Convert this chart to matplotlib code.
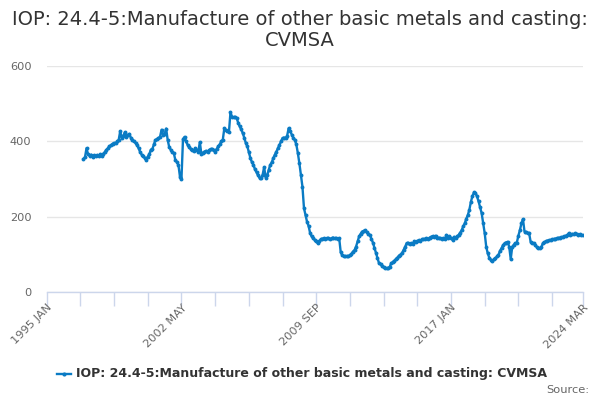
import numpy as np
import matplotlib
matplotlib.use("Agg")
import matplotlib.pyplot as plt

title = "IOP: 24.4-5:Manufacture of other basic metals and casting:\nCVMSA"
series_name = "IOP: 24.4-5:Manufacture of other basic metals and casting: CVMSA"

start_year = 1997
v1997 = [354, 358, 382, 366, 362, 365, 360, 363, 361, 364, 362, 366]
v1998 = [362, 368, 372, 378, 382, 387, 390, 394, 396, 395, 400, 404]
v1999 = [427, 409, 415, 424, 412, 418, 420, 409, 405, 400, 396, 390]
v2000 = [382, 372, 365, 362, 356, 351, 360, 366, 378, 380, 392, 404]
v2001 = [406, 409, 412, 431, 418, 420, 434, 404, 385, 378, 372, 369]
v2002 = [351, 345, 338, 307, 301, 406, 412, 400, 391, 385, 380, 378]
v2003 = [375, 382, 377, 373, 398, 367, 370, 373, 375, 372, 376, 380]
v2004 = [380, 376, 373, 380, 387, 392, 400, 405, 435, 430, 427, 425]
v2005 = [477, 466, 464, 465, 462, 450, 440, 432, 422, 410, 396, 387]
v2006 = [372, 356, 345, 338, 326, 318, 310, 303, 304, 312, 332, 304]
v2007 = [310, 325, 338, 345, 356, 365, 373, 382, 391, 400, 409, 410]
v2008 = [409, 415, 435, 428, 418, 410, 404, 392, 369, 342, 311, 280]
v2009 = [223, 205, 187, 176, 157, 148, 143, 139, 135, 130, 136, 141]
v2010 = [142, 143, 141, 143, 144, 142, 143, 145, 143, 143, 142, 143]
v2011 = [106, 98, 96, 95, 96, 96, 98, 102, 108, 112, 121, 135]
v2012 = [148, 155, 161, 163, 164, 160, 155, 152, 142, 132, 118, 104]
v2013 = [90, 77, 74, 70, 66, 65, 64, 64, 68, 77, 80, 84]
v2014 = [88, 92, 97, 100, 104, 112, 120, 130, 131, 129, 130, 128]
v2015 = [135, 133, 136, 138, 137, 140, 141, 142, 143, 141, 145, 147]
v2016 = [149, 146, 150, 143, 145, 143, 142, 143, 140, 152, 145, 148]
v2017 = [144, 139, 147, 145, 148, 152, 158, 165, 175, 183, 195, 205]
v2018 = [219, 240, 255, 265, 263, 254, 241, 225, 210, 183, 157, 121]
v2019 = [103, 92, 86, 84, 87, 90, 95, 99, 110, 117, 125, 130]
v2020 = [132, 134, 121, 88, 121, 126, 130, 132, 150, 165, 183, 194]
v2021 = [161, 160, 157, 157, 134, 132, 130, 125, 120, 117, 117, 120]
v2022 = [130, 133, 135, 137, 138, 139, 140, 141, 142, 143, 144, 145]
v2023 = [146, 147, 148, 150, 152, 157, 153, 155, 154, 156, 155, 153]
v2024 = [154, 152, 152]

tick_labels = ["1995 JAN", "2002 MAY", "2009 SEP", "2017 JAN", "2024 MAR"]
y_ticks = [0, 200, 400, 600]

years = [v1997, v1998, v1999, v2000, v2001, v2002, v2003, v2004, v2005, v2006,
         v2007, v2008, v2009, v2010, v2011, v2012, v2013, v2014, v2015, v2016,
         v2017, v2018, v2019, v2020, v2021, v2022, v2023, v2024]

MONTHS = ["JAN", "FEB", "MAR", "APR", "MAY", "JUN", "JUL", "AUG", "SEP", "OCT", "NOV", "DEC"]

def month_index(label):
    y, m = label.split()
    return (int(y) - 1995) * 12 + MONTHS.index(m)

xs, ys = [], []
for i, vals in enumerate(years):
    for j, v in enumerate(vals):
        xs.append((start_year + i - 1995) * 12 + j)
        ys.append(v)

label_pos = [month_index(t) for t in tick_labels]
x_end = label_pos[-1]
minor_ticks = list(range(0, x_end, 22)) + [x_end]

plt.rcParams['font.family'] = ['DejaVu Sans']
fig = plt.figure(figsize=(6, 4), dpi=100)
ax = fig.add_axes([46.7 / 600, 1 - 292.3 / 400, 536 / 600, (292.3 - 66) / 400])

line_color = "#0a7bc4"
ax.plot(xs, ys, color=line_color, lw=1.7, marker="o", ms=2.8, mew=0, zorder=3)

ax.set_xlim(0, x_end)
ax.set_ylim(0, 600)
ax.set_yticks(y_ticks)
ax.set_yticklabels([str(t) for t in y_ticks], color="#666666", fontsize=8.2)
ax.tick_params(axis="y", length=0, pad=11)
ax.yaxis.grid(True, color="#e6e6e6", lw=1)
ax.set_axisbelow(True)

ax.set_xticks(minor_ticks)
ax.set_xticklabels(["" for _ in minor_ticks])
ax.tick_params(axis="x", length=10, color="#ccd6eb", width=1, direction="out")
for p, t in zip(label_pos, tick_labels):
    ax.text(p, -0.045, t, transform=ax.get_xaxis_transform(), rotation=45,
            ha="right", va="top", rotation_mode="anchor", fontsize=8.2, color="#666666")

for s in ["top", "right", "left"]:
    ax.spines[s].set_visible(False)
ax.spines["bottom"].set_color("#ccd6eb")
ax.spines["bottom"].set_linewidth(1)

fig.text(0.5, 1 - 30 / 400, title, ha="center", va="center", fontsize=14,
         color="#333333", linespacing=1.15)

# legend
lx0, lx1, ly = 57 / 600, 71 / 600, 1 - 374 / 400
fig.add_artist(plt.Line2D([lx0, lx1], [ly, ly], color=line_color, lw=1.7,
                          transform=fig.transFigure))
fig.add_artist(plt.Line2D([(lx0 + lx1) / 2], [ly], color=line_color, marker="o",
                          ms=3, mew=0, transform=fig.transFigure))
fig.text(76 / 600, ly, series_name, ha="left", va="center", fontsize=9,
         fontweight="bold", color="#333333")
fig.text(589 / 600, 1 - 390 / 400, "Source:", ha="right", va="center",
         fontsize=8.2, color="#666666")

fig.savefig("out.png", dpi=100)
